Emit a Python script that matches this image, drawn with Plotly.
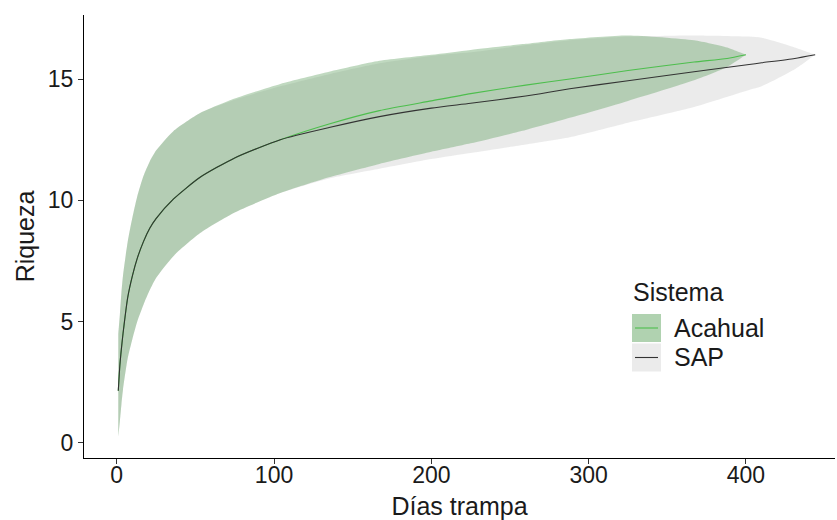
import plotly.graph_objects as go

# ---------------- data ----------------
aca_x = [1, 2, 3, 4, 7, 10, 13, 17, 21, 25, 36, 53, 75, 104, 135, 167, 200, 225, 260, 288, 325, 367, 388, 400]
aca_mean = [2.15, 3.2, 3.9, 4.5, 6.0, 6.9, 7.6, 8.3, 8.85, 9.25, 10.05, 10.95, 11.75, 12.5, 13.15, 13.7, 14.1, 14.4, 14.75, 15.0, 15.35, 15.7, 15.85, 16.0]
aca_upper = [4.5, 5.3, 6.2, 6.9, 8.3, 9.3, 10.15, 11.0, 11.6, 12.05, 12.85, 13.6, 14.2, 14.8, 15.3, 15.75, 16.0, 16.2, 16.45, 16.65, 16.8, 16.6, 16.3, 16.0]
aca_lower = [0.26, 0.9, 1.6, 2.2, 3.5, 4.3, 5.0, 5.7, 6.3, 6.8, 7.7, 8.65, 9.5, 10.3, 10.95, 11.5, 12.0, 12.35, 12.9, 13.4, 14.1, 14.95, 15.5, 16.0]

sap_x = [1, 2, 3, 4, 7, 10, 13, 17, 21, 25, 36, 53, 75, 104, 135, 167, 200, 225, 260, 288, 325, 367, 402, 410, 431, 444]
sap_mean = [2.15, 3.2, 3.9, 4.5, 6.0, 6.9, 7.6, 8.3, 8.85, 9.25, 10.05, 10.95, 11.75, 12.5, 13.0, 13.45, 13.8, 14.0, 14.3, 14.6, 14.93, 15.3, 15.6, 15.67, 15.85, 16.0]
sap_upper = [4.5, 5.3, 6.2, 6.9, 8.3, 9.3, 10.15, 11.0, 11.6, 12.05, 12.85, 13.6, 14.15, 14.7, 15.2, 15.65, 15.95, 16.1, 16.4, 16.6, 16.75, 16.8, 16.75, 16.7, 16.3, 16.0]
sap_lower = [0.26, 0.9, 1.6, 2.2, 3.5, 4.3, 5.0, 5.7, 6.3, 6.8, 7.7, 8.65, 9.5, 10.3, 10.9, 11.3, 11.7, 11.95, 12.3, 12.6, 13.2, 13.85, 14.55, 14.7, 15.4, 16.0]

x_ticks = [0, 100, 200, 300, 400]
y_ticks = [0, 5, 10, 15]
legend_title = "Sistema"
legend_names = ["Acahual", "SAP"]

# ---------------- styles ----------------
FONT = "Liberation Sans, Arial, sans-serif"
GREY_FILL = "rgba(200,200,200,0.36)"
GREEN_FILL = "rgba(105,165,105,0.42)"
GREEN_LINE = "#4DBE4D"
BLACK_LINE = "#333333"
TXT = "#1a1a1a"

W, H = 837, 520
ML, MR, MT, MB = 84, 2, 15, 62

fig = go.Figure()

def band(xs, up, lo, color):
    return go.Scatter(x=list(xs) + list(xs)[::-1], y=list(up) + list(lo)[::-1],
                      fill="toself", fillcolor=color, mode="lines",
                      line=dict(width=0, shape="spline", smoothing=0.6),
                      hoverinfo="skip", showlegend=False)

fig.add_trace(band(sap_x, sap_upper, sap_lower, GREY_FILL))
fig.add_trace(band(aca_x, aca_upper, aca_lower, GREEN_FILL))
fig.add_trace(go.Scatter(x=aca_x, y=aca_mean, mode="lines",
                         line=dict(color=GREEN_LINE, width=1.1, shape="spline", smoothing=0.6),
                         showlegend=False))
fig.add_trace(go.Scatter(x=sap_x, y=sap_mean, mode="lines",
                         line=dict(color=BLACK_LINE, width=1.1, shape="spline", smoothing=0.6),
                         showlegend=False))

axis_common = dict(showgrid=False, zeroline=False, showline=True, linecolor="black", linewidth=1,
                   ticks="outside", ticklen=5, tickcolor="#333333", tickwidth=1,
                   tickfont=dict(family=FONT, size=23, color=TXT))

fig.update_xaxes(range=[-20.8, 456.6], tickvals=x_ticks, ticktext=[str(v) for v in x_ticks],
                 ticklabelstandoff=-9,
                 title=dict(text="Días trampa", font=dict(family=FONT, size=25, color=TXT), standoff=12),
                 **axis_common)
fig.update_yaxes(range=[-0.62, 17.64], tickvals=y_ticks, ticktext=[str(v) for v in y_ticks],
                 title=dict(text="Riqueza", font=dict(family=FONT, size=25, color=TXT), standoff=6),
                 **axis_common)

# manual ggplot-style legend (pixel positions converted to paper coords)
def px(xp):
    return (xp - ML) / (W - ML - MR)

def py(yp):
    return (H - MB - yp) / (H - MT - MB)

shapes = []
annotations = []
annotations.append(dict(x=px(631), y=py(292), xref="paper", yref="paper", text=legend_title,
                        showarrow=False, xanchor="left", yanchor="middle",
                        font=dict(family=FONT, size=25, color=TXT)))
key_fill = ["rgb(176,210,176)", "rgb(235,235,235)"]
key_line = [GREEN_LINE, BLACK_LINE]
for i, name in enumerate(legend_names):
    top = 314 + i * 29.5
    shapes.append(dict(type="rect", xref="paper", yref="paper", x0=px(632), x1=px(661),
                       y0=py(top), y1=py(top + 28), fillcolor=key_fill[i], line=dict(width=0), layer="above"))
    shapes.append(dict(type="line", xref="paper", yref="paper", x0=px(635), x1=px(658),
                       y0=py(top + 14), y1=py(top + 14), line=dict(color=key_line[i], width=1.1), layer="above"))
    annotations.append(dict(x=px(672), y=py(top + 14), xref="paper", yref="paper", text=name,
                            showarrow=False, xanchor="left", yanchor="middle",
                            font=dict(family=FONT, size=25, color=TXT)))

fig.update_layout(width=W, height=H, margin=dict(l=ML, r=MR, t=MT, b=MB),
                  plot_bgcolor="white", paper_bgcolor="white",
                  shapes=shapes, annotations=annotations, showlegend=False)

fig.write_html("out.html", config={"displayModeBar": False},
               post_script="document.body.style.margin='0';document.body.style.overflow='hidden';")
